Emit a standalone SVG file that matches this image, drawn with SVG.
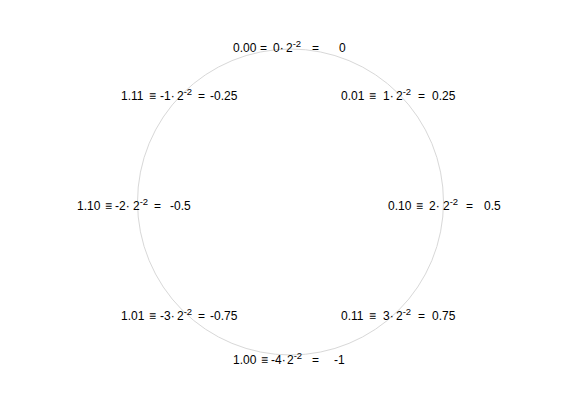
<svg xmlns="http://www.w3.org/2000/svg" width="561" height="420" viewBox="0 0 561 420">
<style>
text{font-family:"Liberation Sans",Arial,sans-serif;font-size:12px;fill:#000}
.s{font-size:9.5px}
.c{fill:none;stroke:#d8d8d8;stroke-width:1}
</style>
<rect width="561" height="420" fill="#fff"/>
<g id="circle"><circle class="c" cx="290.5" cy="202" r="153"/></g>
<g id="connectors"></g>
<g id="n000"><text y="52"><tspan x="233">0.00</tspan><tspan x="260">=</tspan><tspan x="273">0·</tspan><tspan x="286">2</tspan><tspan class="s" dy="-5">-2</tspan><tspan x="312" dy="5">=</tspan><tspan x="339">0</tspan></text></g>
<g id="n001"><text y="100"><tspan x="341">0.01</tspan><tspan x="369">≡</tspan><tspan x="383">1·</tspan><tspan x="396">2</tspan><tspan class="s" dy="-5">-2</tspan><tspan x="418" dy="5">=</tspan><tspan x="432">0.25</tspan></text></g>
<g id="n111"><text y="100"><tspan x="121">1.11</tspan><tspan x="149">≡</tspan><tspan x="160">-1·</tspan><tspan x="177">2</tspan><tspan class="s" dy="-5">-2</tspan><tspan x="198" dy="5">=</tspan><tspan x="210">-0.25</tspan></text></g>
<g id="n110"><text y="210"><tspan x="77">1.10</tspan><tspan x="105">≡</tspan><tspan x="115">-2·</tspan><tspan x="133">2</tspan><tspan class="s" dy="-5">-2</tspan><tspan x="154" dy="5">=</tspan><tspan x="170">-0.5</tspan></text></g>
<g id="n010"><text y="210"><tspan x="388">0.10</tspan><tspan x="416">≡</tspan><tspan x="429">2·</tspan><tspan x="443">2</tspan><tspan class="s" dy="-5">-2</tspan><tspan x="466" dy="5">=</tspan><tspan x="484">0.5</tspan></text></g>
<g id="n101"><text y="320"><tspan x="121">1.01</tspan><tspan x="149">≡</tspan><tspan x="160">-3·</tspan><tspan x="177">2</tspan><tspan class="s" dy="-5">-2</tspan><tspan x="198" dy="5">=</tspan><tspan x="210">-0.75</tspan></text></g>
<g id="n011"><text y="320"><tspan x="341">0.11</tspan><tspan x="369">≡</tspan><tspan x="383">3·</tspan><tspan x="396">2</tspan><tspan class="s" dy="-5">-2</tspan><tspan x="418" dy="5">=</tspan><tspan x="432">0.75</tspan></text></g>
<g id="n100"><text y="364"><tspan x="233">1.00</tspan><tspan x="261">≡</tspan><tspan x="271">-4·</tspan><tspan x="287">2</tspan><tspan class="s" dy="-5">-2</tspan><tspan x="312" dy="5">=</tspan><tspan x="334">-1</tspan></text></g>
</svg>
